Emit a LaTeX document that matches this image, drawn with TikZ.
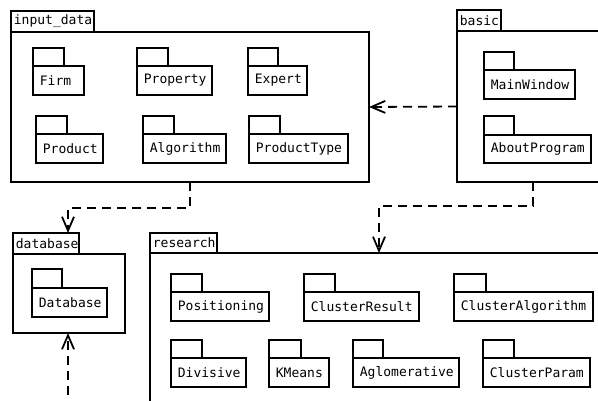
\documentclass[tikz,border=0pt]{standalone}
\usepackage{fontspec}
\setmonofont{DejaVu Sans Mono}
\usetikzlibrary{arrows.meta}
\newcommand\pkgin[8]{% name, x1, ytab, tabx2, ybody, x2, ybottom, text
  \node[box, anchor=north west, minimum width={#6-#2}, minimum height={#7-#5}] (#1) at (#2,#5) {};
  \node[box, anchor=south west, minimum width={#4-#2}, minimum height={#5-#3}] (#1tab) at (#2,#5) {};
  \node[lbl, anchor=west] (#1lbl) at (#2+6,{(#5+#7)/2}) {#8};
}
\newcommand\pkgout[8]{% name, x1, ytab, tabx2, ybox, x2, ybottom, label
  \node[box, anchor=north west, minimum width={#6-#2}, minimum height={#7-#5}] (#1) at (#2,#5) {};
  \node[box, anchor=south west, minimum width={#4-#2}, minimum height={#5-#3}] (#1tab) at (#2,#5) {};
  \node[lbl, anchor=west] (#1lbl) at (#2+2,{(#3+#5)/2}) {#8};
}
\begin{document}
\begin{tikzpicture}[x=1pt,y=-1pt,line width=1.8pt,
  box/.style={draw=black, fill=white, inner sep=0pt, outer sep=0pt},
  lbl/.style={inner sep=0pt, font=\ttfamily\fontsize{13}{15}\selectfont},
  dep/.style={draw=black, dash pattern=on 9pt off 6pt, -{Straight Barb[length=14pt,width=12pt,line width=1.8pt]}}]
\useasboundingbox (0,0) rectangle (598,401);
\clip (0,0) rectangle (598,401);
\fill[white] (0,0) rectangle (598,401);

% input_data
\pkgout{inputdata}{11}{11}{94}{32}{369}{182}{input\_data}
\pkgin{firm}{33}{48}{64}{66}{84}{95}{Firm}
\pkgin{property}{137}{48}{168}{66}{212}{95}{Property}
\pkgin{expert}{248}{48}{278}{66}{307}{95}{Expert}
\pkgin{product}{36}{116}{67}{134}{103}{163}{Product}
\pkgin{algorithm}{143}{116}{174}{134}{226}{163}{Algorithm}
\pkgin{producttype}{249}{116}{280}{134}{348}{163}{ProductType}

% basic
\pkgout{basic}{457}{10}{501}{31}{620}{182}{basic}
\pkgin{mainwindow}{484}{52}{514}{70}{575}{99}{MainWindow}
\pkgin{aboutprogram}{484}{116}{514}{135}{591}{163}{AboutProgram}

% database
\pkgout{database}{13}{233}{79}{254}{125}{333}{database}
\pkgin{databaseinner}{32}{269}{62}{288}{107}{317}{Database}

% research
\pkgout{research}{150}{233}{217}{253}{620}{420}{research}
\pkgin{positioning}{171}{274}{202}{292}{269}{321}{Positioning}
\pkgin{clusterresult}{304}{274}{335}{292}{419}{321}{ClusterResult}
\pkgin{clusteralgorithm}{454}{274}{486}{292}{593}{321}{ClusterAlgorithm}
\pkgin{divisive}{171}{340}{202}{358}{246}{387}{Divisive}
\pkgin{kmeans}{269}{340}{301}{358}{329}{387}{KMeans}
\pkgin{aglomerative}{353}{340}{383}{358}{459}{387}{Aglomerative}
\pkgin{clusterparam}{483}{340}{514}{358}{590}{387}{ClusterParam}

% connectors
\coordinate (k1) at (68,208);
\coordinate (k2) at (190,208);
\coordinate (k3) at (533,206);
\coordinate (k4) at (379,206);
\coordinate (k5) at (68,410);
\draw[dep] (basic.west) -- (inputdata.east);
\draw[dep] (inputdata.south -| k2) |- (k1) -- (k1 |- databasetab.north);
\draw[dep] (basic.south -| k3) |- (k4) -- (k4 |- research.north);
\draw[dep] (k5) -- (k5 |- database.south);
\end{tikzpicture}
\end{document}
